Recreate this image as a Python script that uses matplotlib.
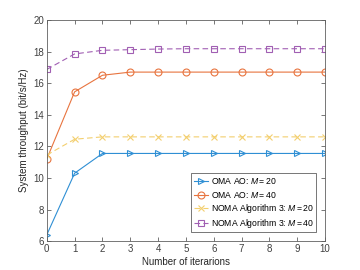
import numpy as np
import matplotlib
matplotlib.use('Agg')
import matplotlib.pyplot as plt

iters = np.arange(0, 11)
oma_20 = [6.4, 10.3, 11.55, 11.55, 11.55, 11.55, 11.55, 11.55, 11.55, 11.55, 11.55]
oma_40 = [11.2, 15.45, 16.5, 16.7, 16.7, 16.7, 16.7, 16.7, 16.7, 16.7, 16.7]
noma_20 = [11.45, 12.45, 12.6, 12.6, 12.6, 12.6, 12.6, 12.6, 12.6, 12.6, 12.6]
noma_40 = [16.87, 17.85, 18.08, 18.12, 18.16, 18.18, 18.18, 18.18, 18.18, 18.18, 18.18]

plt.rcParams.update({
    "font.family": "Liberation Sans",
    "font.size": 7,
    "mathtext.fontset": "custom",
    "mathtext.it": "Liberation Sans:italic",
    "mathtext.rm": "Liberation Sans"})

fig = plt.figure(figsize=(3.6, 2.7), dpi=100)
ax = fig.add_axes([0.13, 0.107, 0.773, 0.819])

lw = 0.8
ms = 5
ax.plot(iters, oma_20, '-', marker='>', color='#2f8fd4', mfc='none', lw=lw, ms=ms, mew=0.8,
        label=r'OMA AO: $\mathit{M{=}20}$')
ax.plot(iters, oma_40, '-', marker='o', color='#e8743f', mfc='none', lw=lw, ms=ms, mew=0.8,
        label=r'OMA AO: $\mathit{M{=}40}$')
ax.plot(iters, noma_20, '--', marker='x', color='#f3cf6e', lw=lw, ms=ms, mew=0.8,
        dashes=(5, 3), label=r'NOMA Algorithm 3: $\mathit{M{=}20}$')
ax.plot(iters, noma_40, '--', marker='s', color='#a15fb3', mfc='none', lw=lw, ms=4.5, mew=0.8,
        dashes=(5, 3), label=r'NOMA Algorithm 3: $\mathit{M{=}40}$')

ax.set_xlim(0, 10)
ax.set_ylim(6, 20)
ax.set_xticks(range(0, 11))
ax.set_yticks(range(6, 21, 2))
ax.tick_params(direction='in', top=True, right=True, length=3, width=0.5,
               colors='#404040', labelsize=7, pad=2)
for s in ax.spines.values():
    s.set_linewidth(0.6)
    s.set_color('#606060')
ax.set_xlabel('Number of iterarions', fontsize=7, color='#262626', labelpad=2)
ax.set_ylabel('System throughput (bit/s/Hz)', fontsize=7, color='#262626', labelpad=3)

leg = ax.legend(loc='lower right', fontsize=6.2, fancybox=False, edgecolor='#404040',
                framealpha=1, borderpad=0.3, labelspacing=0.25, handlelength=1.7,
                handletextpad=0.3, borderaxespad=1.0)
leg.get_frame().set_linewidth(0.5)

fig.savefig('out.png', dpi=100)
